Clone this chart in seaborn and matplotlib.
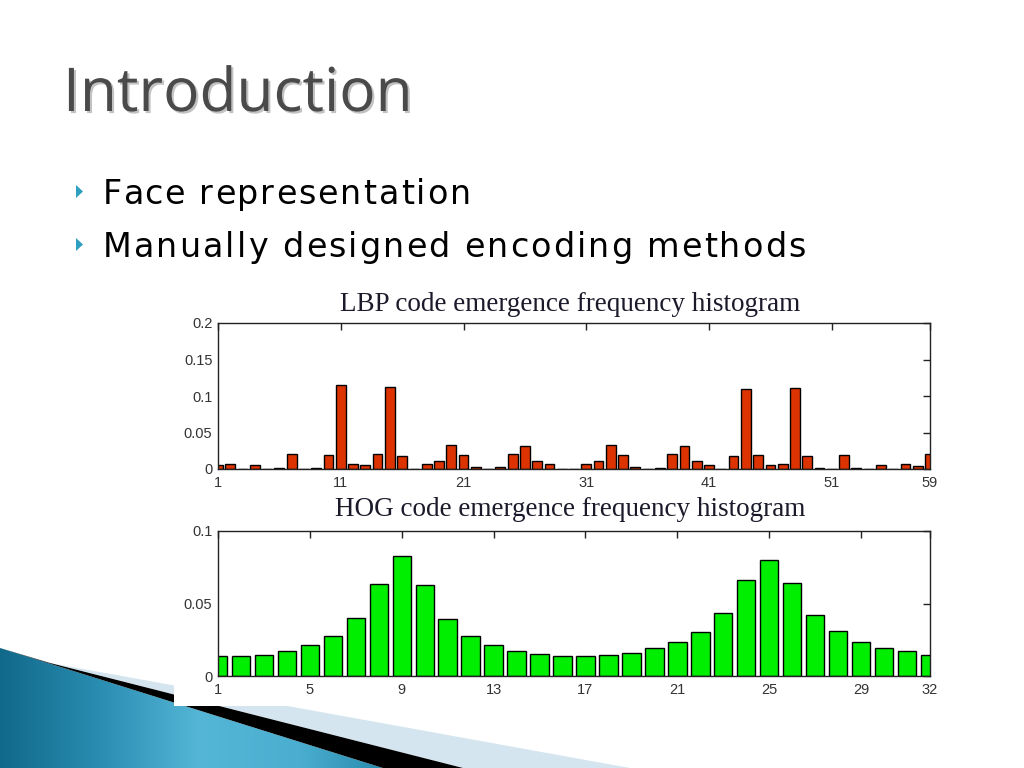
"""Slide recreation: LBP / HOG code emergence frequency histograms."""

import matplotlib

matplotlib.use("Agg")

import matplotlib.pyplot as plt
import matplotlib.patheffects as pe
import numpy as np
import pandas as pd
import seaborn as sns
from matplotlib.colors import LinearSegmentedColormap
from matplotlib.font_manager import FontProperties
from matplotlib.patches import Polygon, Rectangle
from matplotlib.textpath import text_to_path

# --- chart data ---
LBP_CODES = list(range(1, 60))
LBP_FREQ = [
    0.0055, 0.007, 0.0, 0.006, 0.0, 0.001, 0.0205, 0.0, 0.001, 0.019,
    0.115, 0.007, 0.006, 0.0205, 0.1123, 0.0178, 0.0, 0.007, 0.0105, 0.0324,
    0.019, 0.003, 0.0, 0.003, 0.021, 0.031, 0.0105, 0.0064, 0.0, 0.0,
    0.0073, 0.0105, 0.0326, 0.019, 0.003, 0.0, 0.0014, 0.0206, 0.031, 0.0105,
    0.006, 0.0, 0.0178, 0.110, 0.019, 0.006, 0.007, 0.111, 0.0178, 0.0014,
    0.0, 0.019, 0.0014, 0.0, 0.006, 0.0, 0.007, 0.0046, 0.0206,
]
LBP_XTICKS = [1, 11, 21, 31, 41, 51, 59]
LBP_YTICKS = [0, 0.05, 0.1, 0.15, 0.2]
LBP_YTICKLABELS = ["0", "0.05", "0.1", "0.15", "0.2"]

HOG_CODES = list(range(1, 33))
HOG_FREQ = [
    0.0139, 0.0139, 0.0146, 0.0169, 0.0212, 0.0278, 0.0401, 0.0636, 0.0825, 0.0629,
    0.0396, 0.0278, 0.0212, 0.0175, 0.0153, 0.0139, 0.0139, 0.0146, 0.0162, 0.0191,
    0.0232, 0.0301, 0.0437, 0.0663, 0.0802, 0.0642, 0.0424, 0.0308, 0.0232, 0.0191,
    0.0169, 0.0146,
]
HOG_XTICKS = [1, 5, 9, 13, 17, 21, 25, 29, 32]
HOG_YTICKS = [0, 0.05, 0.1]
HOG_YTICKLABELS = ["0", "0.05", "0.1"]

TITLE = "Introduction"
BULLETS = ["Face representation", "Manually designed encoding methods"]
LBP_TITLE = "LBP code emergence frequency histogram"
HOG_TITLE = "HOG code emergence frequency histogram"

W, H = 1024, 768
DPI = 100


def fig_box(left, top, right, bottom):
    """Pixel box (top-left origin) -> figure fraction rect."""
    return [left / W, 1 - bottom / H, (right - left) / W, (bottom - top) / H]


def tracked_text(ax, x, y, s, size, family, color, track, zorder=6):
    """Draw text char by char with extra letter spacing (pixels)."""
    fp = FontProperties(family=family, size=size)
    for i, ch in enumerate(s):
        w, _, _ = text_to_path.get_text_width_height_descent(s[:i], fp, ismath=False)
        xi = x + w * DPI / 72 + i * track
        ax.text(xi, y, ch, fontproperties=fp, color=color,
                ha="left", va="baseline", zorder=zorder)


def draw_histogram(ax, codes, freq, color, xticks, yticks, yticklabels, xlim, ylim):
    df = pd.DataFrame({"code": codes, "freq": freq})
    sns.barplot(
        data=df, x="code", y="freq", native_scale=True, width=0.8,
        color=color, saturation=1, edgecolor="black", linewidth=1.0, ax=ax,
    )
    ax.set_xlim(*xlim)
    ax.set_ylim(*ylim)
    ax.set_xticks(xticks)
    ax.set_xticklabels([str(t) for t in xticks])
    ax.set_yticks(yticks)
    ax.set_yticklabels(yticklabels)
    ax.set_xlabel("")
    ax.set_ylabel("")
    ax.tick_params(direction="in", length=5, width=1, colors="#222222",
                   labelcolor="#333333", labelsize=10.5, top=True, right=True, pad=4)
    ax.tick_params(axis="x", pad=5)
    for spine in ax.spines.values():
        spine.set_visible(True)
        spine.set_color("#222222")
        spine.set_linewidth(1.0)
    for lab in ax.get_xticklabels() + ax.get_yticklabels():
        lab.set_fontfamily("Liberation Sans")
    ax.grid(False)


sns.set_theme(style="white")
plt.rcParams["font.family"] = ["DejaVu Sans"]

fig = plt.figure(figsize=(W / DPI, H / DPI), dpi=DPI)

# background layer in pixel coordinates
bg = fig.add_axes([0, 0, 1, 1], zorder=-5)
bg.set_xlim(0, W)
bg.set_ylim(H, 0)
bg.axis("off")

# blue wave with gradient
blue_cmap = LinearSegmentedColormap.from_list(
    "wave", ["#11698a", "#2a8db2", "#55b6d7", "#4aaed0", "#2285a8"]
)
grad = np.linspace(0, 1, 256).reshape(1, -1)
img = bg.imshow(grad, cmap=blue_cmap, extent=[0, 400, H, 640], aspect="auto", zorder=1)
wave = Polygon([(0, 648), (383, 768), (0, 768)], closed=True,
               facecolor="none", edgecolor="none")
bg.add_patch(wave)
img.set_clip_path(wave)
bg.add_patch(Polygon([(50, 663), (630, 768), (463, 768)], closed=True,
                     facecolor="#d5e5ef", edgecolor="none", zorder=2))
bg.add_patch(Polygon([(50, 663), (463, 768), (383, 768), (0, 648)], closed=True,
                     facecolor="black", edgecolor="none", zorder=3))
# white picture box holding the charts
bg.add_patch(Rectangle((174, 285), 796, 421, facecolor="white",
                       edgecolor="none", zorder=4))

# slide title and bullets
bg.text(63, 111, TITLE, fontsize=43.5, color="#4a4a4a", family="Open Sans",
        ha="left", va="baseline", zorder=6,
        path_effects=[pe.withSimplePatchShadow(offset=(1.5, -1.5),
                                               shadow_rgbFace="#9a9a9a", alpha=0.6)])
for i, line in enumerate(BULLETS):
    base = 204 + i * 53
    cy = base - 12.5
    bg.add_patch(Polygon([(76, cy - 6.5), (83, cy), (76, cy + 6.5)], closed=True,
                         facecolor="#2f9fc0", edgecolor="none", zorder=6))
    tracked_text(bg, 103, base, line, 24, "DejaVu Sans", "black", track=2.1)

# chart titles
bg.text(570, 311, LBP_TITLE, fontsize=19.5, color="#1a1a2a",
        family="Liberation Serif", ha="center", va="baseline", zorder=6)
bg.text(570, 516, HOG_TITLE, fontsize=19.5, color="#1a1a2a",
        family="Liberation Serif", ha="center", va="baseline", zorder=6)

# histograms
ax1 = fig.add_axes(fig_box(218, 323, 930, 469))
draw_histogram(ax1, LBP_CODES, LBP_FREQ, "#dd3300", LBP_XTICKS,
               LBP_YTICKS, LBP_YTICKLABELS, (1, 59), (0, 0.2))

ax2 = fig.add_axes(fig_box(218, 531, 930, 676))
draw_histogram(ax2, HOG_CODES, HOG_FREQ, "#00ee00", HOG_XTICKS,
               HOG_YTICKS, HOG_YTICKLABELS, (1, 32), (0, 0.1))

fig.savefig("out.png", dpi=DPI)
plt.close(fig)
